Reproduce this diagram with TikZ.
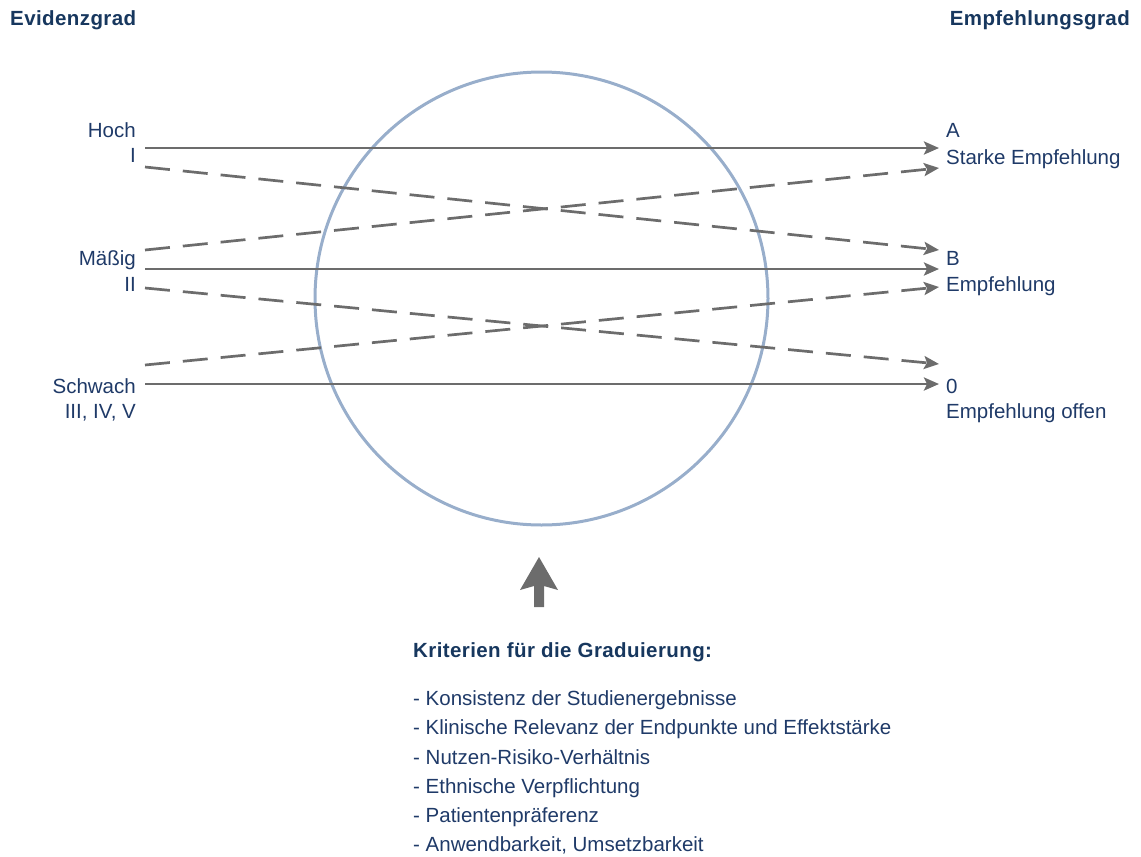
\documentclass[tikz,border=0pt]{standalone}
\usepackage{fontspec}
\setmainfont{Liberation Sans}
\newfontfamily\titlefont[LetterSpace=2]{Liberation Sans Bold}
\usetikzlibrary{arrows.meta}
\definecolor{txtblue}{HTML}{1F3A68}
\definecolor{ttlblue}{HTML}{17375E}
\definecolor{lgray}{HTML}{6C6C6C}
\definecolor{ringblue}{HTML}{98AECB}
\tikzset{
  lbl/.style={inner sep=0pt, text height=18pt, text depth=3.4pt, text=txtblue, font=\fontsize{20.5}{24}\selectfont},
  ttl/.style={inner sep=0pt, text height=18pt, text depth=3.4pt, text=ttlblue, font=\titlefont\fontsize{20.5}{24}\selectfont},
  conn/.style={draw=lgray, line width=2.7pt, -{Stealth[length=15pt,width=13pt,inset=3pt]}},
  dconn/.style={conn, dash pattern=on 25pt off 13pt},
  ring/.style={draw=ringblue, line width=3pt},
}
\begin{document}
\begin{tikzpicture}[x=1pt,y=-1pt]
\useasboundingbox (0,0) rectangle (1141,857);
% titles
\node[ttl, anchor=west] (tl) at (10,18) {Evidenzgrad};
\node[ttl, anchor=east] (tr) at (1130,18) {Empfehlungsgrad};
% circle
\node[ring, circle, minimum size=453pt, inner sep=0pt] (circ) at (541.5,298.5) {};
% left labels
\node[lbl, anchor=east] (hoch) at (136,130) {Hoch};
\node[lbl, anchor=east] (one) at (136,155) {I};
\node[lbl, anchor=east] (mas) at (136,258) {Mäßig};
\node[lbl, anchor=east] (two) at (136,284) {II};
\node[lbl, anchor=east] (schw) at (136,386) {Schwach};
\node[lbl, anchor=east] (three) at (136,411) {III, IV, V};
% right labels
\node[lbl, anchor=west] (A) at (946,130) {A};
\node[lbl, anchor=west] (Atx) at (946,157) {Starke Empfehlung};
\node[lbl, anchor=west] (B) at (946,258) {B};
\node[lbl, anchor=west] (Btx) at (946,284) {Empfehlung};
\node[lbl, anchor=west] (Z) at (946,386) {0};
\node[lbl, anchor=west] (Ztx) at (946,411) {Empfehlung offen};
% connector endpoints
\coordinate (l1) at (145,148);
\coordinate (l2) at (145,167);
\coordinate (l3) at (145,250);
\coordinate (l4) at (145,269);
\coordinate (l5) at (145,288);
\coordinate (l6) at (145,365);
\coordinate (l7) at (145,384);
\coordinate (r1) at (939,148);
\coordinate (r2) at (939,168);
\coordinate (r3) at (939,250);
\coordinate (r4) at (939,269);
\coordinate (r5) at (939,287);
\coordinate (r6) at (939,364);
\coordinate (r7) at (939,384);
\draw[conn] (l1) -- (r1);
\draw[dconn] (l2) -- (r3);
\draw[dconn] (l3) -- (r2);
\draw[conn] (l4) -- (r4);
\draw[dconn] (l5) -- (r6);
\draw[dconn] (l6) -- (r5);
\draw[conn] (l7) -- (r7);
% big up arrow
\fill[lgray] (534,607) -- (534,586) -- (520,590) -- (539,557) -- (558,590) -- (544,586) -- (544,607) -- cycle;
% criteria
\node[ttl, anchor=west] (krit) at (413,650) {Kriterien für die Graduierung:};
\node[lbl, anchor=west] (c1) at (413,698) {- Konsistenz der Studienergebnisse};
\node[lbl, anchor=west] (c2) at (413,727) {- Klinische Relevanz der Endpunkte und Effektstärke};
\node[lbl, anchor=west] (c3) at (413,757) {- Nutzen-Risiko-Verhältnis};
\node[lbl, anchor=west] (c4) at (413,786) {- Ethnische Verpflichtung};
\node[lbl, anchor=west] (c5) at (413,815) {- Patientenpräferenz};
\node[lbl, anchor=west] (c6) at (413,844) {- Anwendbarkeit, Umsetzbarkeit};
\end{tikzpicture}
\end{document}
